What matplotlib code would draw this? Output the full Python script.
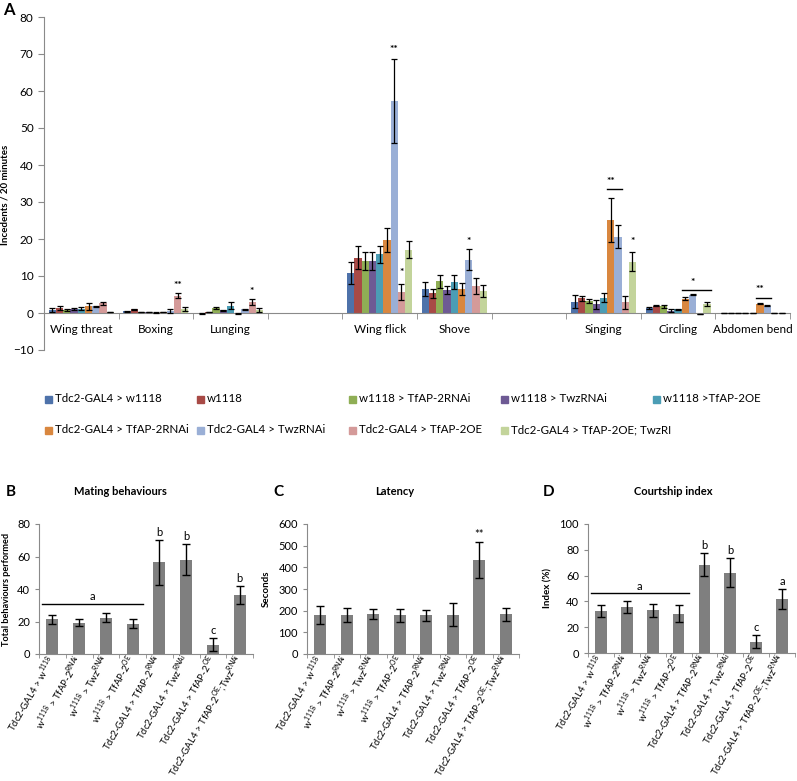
import numpy as np
import matplotlib.pyplot as plt
from matplotlib.patches import Rectangle

plt.rcParams['font.family'] = ['Lato', 'DejaVu Sans']
plt.rcParams['axes.edgecolor'] = '#8a8a8a'
plt.rcParams['xtick.color'] = '#8a8a8a'
plt.rcParams['ytick.color'] = '#8a8a8a'
plt.rcParams['xtick.labelcolor'] = 'black'
plt.rcParams['ytick.labelcolor'] = 'black'

nan = np.nan

# ---- panel A data ----
behaviours = ['Wing threat', 'Boxing', 'Lunging', '', 'Wing flick', 'Shove', '',
              'Singing', 'Circling', 'Abdomen bend']

genotypes = ['Tdc2-GAL4 > w1118', 'w1118', 'w1118 > TfAP-2RNAi', 'w1118 > TwzRNAi',
             'w1118 >TfAP-2OE', 'Tdc2-GAL4 > TfAP-2RNAi', 'Tdc2-GAL4 > TwzRNAi',
             'Tdc2-GAL4 > TfAP-2OE', 'Tdc2-GAL4 > TfAP-2OE; TwzRI']
colors = ['#4e72aa', '#a84a46', '#8fae55', '#6e5a94', '#4b9db5',
          '#d9873f', '#9aafd6', '#d49a99', '#c3d49b']

tdc2_w1118 = [0.8, 0.5, -0.2, nan, 10.9, 6.5, nan, 3.1, 1.4, 0.0]
tdc2_w1118_err = [0.5, 0.1, 0.1, nan, 3.0, 1.8, nan, 1.8, 0.2, 0.1]
w1118 = [1.4, 1.0, 0.3, nan, 15.0, 5.3, nan, 4.0, 2.0, 0.0]
w1118_err = [0.6, 0.2, 0.1, nan, 3.0, 1.2, nan, 0.7, 0.2, 0.1]
w_tfap_rnai = [0.8, 0.3, 1.3, nan, 14.1, 8.6, nan, 3.2, 1.8, 0.0]
w_tfap_rnai_err = [0.2, 0.1, 0.2, nan, 2.4, 1.8, nan, 0.5, 0.4, 0.1]
w_twz_rnai = [1.0, 0.3, 0.7, nan, 14.1, 6.3, nan, 2.3, 0.6, 0.0]
w_twz_rnai_err = [0.3, 0.1, 0.2, nan, 2.5, 1.1, nan, 1.3, 0.4, 0.1]
w_tfap_oe = [1.1, 0.1, 2.0, nan, 15.9, 8.4, nan, 4.1, 1.0, 0.0]
w_tfap_oe_err = [0.4, 0.1, 0.9, nan, 2.3, 1.8, nan, 1.2, 0.2, 0.1]
tdc2_tfap_rnai = [1.8, 0.3, -0.1, nan, 19.8, 6.5, nan, 25.1, 3.9, 2.5]
tdc2_tfap_rnai_err = [1.0, 0.1, 0.1, nan, 3.3, 1.5, nan, 5.9, 0.3, 0.1]
tdc2_twz_rnai = [1.8, 0.6, 1.0, nan, 57.3, 14.4, nan, 20.6, 5.0, 2.0]
tdc2_twz_rnai_err = [0.1, 0.5, 0.2, nan, 11.3, 2.9, nan, 3.1, 0.2, 0.1]
tdc2_tfap_oe = [2.6, 4.7, 3.0, nan, 5.7, 7.3, nan, 2.9, -0.3, 0.0]
tdc2_tfap_oe_err = [0.4, 0.7, 0.8, nan, 2.1, 2.1, nan, 1.8, 0.1, 0.1]
tdc2_oe_twz = [0.3, 1.1, 0.9, nan, 17.1, 5.9, nan, 13.9, 2.5, 0.0]
tdc2_oe_twz_err = [0.1, 0.6, 0.5, nan, 2.3, 1.7, nan, 2.5, 0.6, 0.1]

means_a = [tdc2_w1118, w1118, w_tfap_rnai, w_twz_rnai, w_tfap_oe,
           tdc2_tfap_rnai, tdc2_twz_rnai, tdc2_tfap_oe, tdc2_oe_twz]
errs_a = [tdc2_w1118_err, w1118_err, w_tfap_rnai_err, w_twz_rnai_err, w_tfap_oe_err,
          tdc2_tfap_rnai_err, tdc2_twz_rnai_err, tdc2_tfap_oe_err, tdc2_oe_twz_err]

# stars: (behaviour index, genotype index, text, y)
stars_a = [(1, 7, '**', 6.2), (2, 7, '*', 4.6), (4, 6, '**', 70.0), (4, 7, '*', 9.6),
           (5, 6, '*', 18.0), (7, 5, '**', 34.2), (7, 8, '*', 18.2),
           (8, 6, '*', 6.9), (9, 5, '**', 5.0)]
# bracket lines: (behaviour index, first genotype, last genotype, y)
lines_a = [(7, 5, 6, 33.5), (8, 5, 8, 6.2), (9, 5, 6, 4.1)]

# ---- panels B-D data ----
lines_bcd = [r'Tdc2-GAL4 > w$^{\mathregular{1118}}$',
             r'w$^{\mathregular{1118}}$ > TfAP-2$^{\mathregular{RNAi}}$',
             r'w$^{\mathregular{1118}}$ > Twz$^{\mathregular{RNAi}}$',
             r'w$^{\mathregular{1118}}$ > TfAP-2$^{\mathregular{OE}}$',
             r'Tdc2-GAL4 > TfAP-2$^{\mathregular{RNAi}}$',
             r'Tdc2-GAL4 > Twz$^{\mathregular{RNAi}}$',
             r'Tdc2-GAL4 > TfAP-2$^{\mathregular{OE}}$',
             r'Tdc2-GAL4 > TfAP-2$^{\mathregular{OE}}$;Twz$^{\mathregular{RNAi}}$']

mating = [21.5, 19.3, 22.3, 18.7, 56.4, 58.0, 5.7, 36.3]
mating_err = [2.8, 2.2, 2.7, 2.8, 13.8, 9.6, 3.9, 5.7]
mating_letters = ['', '', '', '', 'b', 'b', 'c', 'b']

latency = [180, 180, 183, 178, 178, 182, 435, 183]
latency_err = [42, 31, 23, 29, 27, 52, 82, 30]
latency_letters = ['', '', '', '', '', '', '**', '']

courtship = [32.3, 35.7, 33.0, 30.5, 68.5, 62.3, 8.8, 42.1]
courtship_err = [4.7, 4.5, 4.8, 6.4, 9.0, 11.5, 5.0, 7.8]
courtship_letters = ['', '', '', '', 'b', 'b', 'c', 'a']

W, H = 797, 781
fig = plt.figure(figsize=(W / 100, H / 100), dpi=100)


def box(l, t, r, b):
    return [l / W, 1 - b / H, (r - l) / W, (b - t) / H]


# ================= panel A =================
ax = fig.add_axes(box(44, 17, 790, 350))
n = len(genotypes)
group = 0.87
bw = group / n
x = np.arange(len(behaviours))
for i in range(n):
    xs = x + (i - (n - 1) / 2) * bw
    ax.bar(xs, means_a[i], bw, color=colors[i], zorder=2)
    ax.errorbar(xs, means_a[i], yerr=errs_a[i], fmt='none', ecolor='black',
                elinewidth=0.9, capsize=2.2, capthick=0.9, zorder=3)

for b, g, s, y in stars_a:
    ax.text(b + (g - (n - 1) / 2) * bw, y, s, ha='center', va='bottom', fontsize=7.5,
            fontweight='bold')
for b, g1, g2, y in lines_a:
    x1 = b + (g1 - (n - 1) / 2) * bw - bw / 2
    x2 = b + (g2 - (n - 1) / 2) * bw + bw / 2
    ax.plot([x1, x2], [y, y], color='black', lw=1)

ax.set_xlim(-0.5, len(behaviours) - 0.5)
ax.set_ylim(-10, 80)
ax.set_yticks(np.arange(-10, 81, 10))
ax.tick_params(axis='y', labelsize=8.5, length=4)
ax.spines['top'].set_visible(False)
ax.spines['right'].set_visible(False)
ax.spines['bottom'].set_position(('data', 0))
ax.set_xticks(x)
ax.set_xticklabels(behaviours, fontsize=8.5)
ax.set_xticks(np.arange(-0.5, len(behaviours)), minor=True)
ax.tick_params(axis='x', which='major', length=0, pad=8)
ax.tick_params(axis='x', which='minor', length=4)
ax.set_ylabel('Incedents / 20 minutes', fontsize=7, fontweight='bold')
ax.yaxis.set_label_coords(-0.046, 0.465)
fig.text(3 / W, 1 - 2 / H, 'A', fontsize=12, fontweight='bold', va='top')

# legend, laid out as in the original (5 columns, row by row)
for i in range(n):
    row, col = divmod(i, 5)
    lx = 45 + 152 * col
    ly = 399 + 31 * row
    fig.add_artist(Rectangle((lx / W, 1 - (ly + 3.5) / H), 7 / W, 7 / H,
                             transform=fig.transFigure, color=colors[i]))
    fig.text((lx + 10) / W, 1 - ly / H, genotypes[i], fontsize=8.3, va='center')


# ================= panels B-D =================
def small_panel(pos, vals, errs, letters, ymax, step, ylabel, letter_gap, label_x):
    a = fig.add_axes(pos)
    xx = np.arange(len(vals))
    a.bar(xx, vals, 0.45, color='#7f7f7f', zorder=2)
    a.errorbar(xx, vals, yerr=errs, fmt='none', ecolor='black', elinewidth=1,
               capsize=3, capthick=1, zorder=3)
    for xi, v, e, s in zip(xx, vals, errs, letters):
        if s:
            a.text(xi, v + e + letter_gap, s, ha='center', va='bottom', fontsize=8)
    a.set_xlim(-0.5, len(vals) - 0.5)
    a.set_ylim(0, ymax)
    a.set_yticks(np.arange(0, ymax + 1, step))
    a.tick_params(axis='y', labelsize=8, length=3)
    a.spines['top'].set_visible(False)
    a.spines['right'].set_visible(False)
    a.set_xticks(xx)
    a.set_xticklabels(lines_bcd, fontsize=6.9, rotation=60, ha='right', va='center',
                      rotation_mode='anchor')
    a.set_xticks(np.arange(-0.5, len(vals)), minor=True)
    a.tick_params(axis='x', which='major', length=0, pad=2)
    a.tick_params(axis='x', which='minor', length=3)
    a.set_ylabel(ylabel, fontsize=7, fontweight='bold')
    a.yaxis.set_label_coords(label_x, 0.5)
    return a


axb = small_panel(box(39, 524, 253, 654), mating, mating_err, mating_letters,
                  80, 20, 'Total behaviours performed', 1.2, -0.13)
axb.yaxis.label.set_fontsize(6.6)
axb.plot([-0.4, 3.4], [30.8, 30.8], color='black', lw=1)
axb.text(1.5, 31.8, 'a', ha='center', va='bottom', fontsize=8)

axc = small_panel(box(307, 524, 519, 654), latency, latency_err, latency_letters,
                  600, 100, 'Seconds', 10, -0.17)

axd = small_panel(box(588, 524, 795, 653), courtship, courtship_err, courtship_letters,
                  100, 20, 'Index (%)', 1.5, -0.17)
axd.plot([-0.4, 3.4], [46.3, 46.3], color='black', lw=1)
axd.text(1.5, 47.3, 'a', ha='center', va='bottom', fontsize=8)

for lx, ltr, tx, title in [(6, 'B', 120, 'Mating behaviours'), (273, 'C', 395, 'Latency'),
                           (543, 'D', 673, 'Courtship index')]:
    fig.text(lx / W, 1 - 492 / H, ltr, fontsize=11, fontweight='bold', va='center')
    fig.text(tx / W, 1 - 492 / H, title, fontsize=8, fontweight='bold', va='center',
             ha='center')

fig.savefig('out.png', dpi=100)
